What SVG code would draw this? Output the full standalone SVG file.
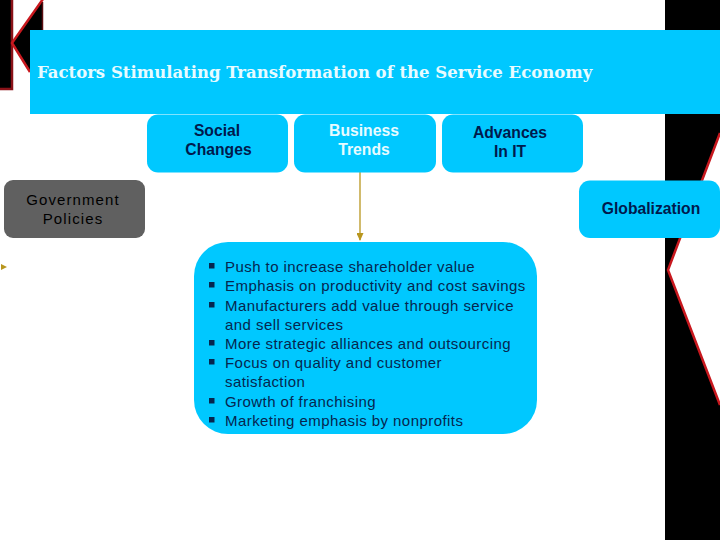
<svg xmlns="http://www.w3.org/2000/svg" width="720" height="540" viewBox="0 0 720 540">
<style>
.box{fill:#00c8ff}
.lab{font-family:"Liberation Sans",Arial,sans-serif;font-size:15.7px;font-weight:bold;fill:#001a4d;text-anchor:middle}
.gov{font-family:"Liberation Sans",Arial,sans-serif;font-size:15px;fill:#000;text-anchor:middle;letter-spacing:1.1px}
.li{font-family:"Liberation Sans",Arial,sans-serif;font-size:15px;fill:#06264f;letter-spacing:.44px}
</style>
<defs><marker id="a" markerWidth="8" markerHeight="7" refX="7" refY="3.5" orient="auto" markerUnits="userSpaceOnUse"><path d="M0 0L8 3.500L0 7z" fill="#b8961e"/></marker></defs>
<rect x="665" y="0" width="55" height="540" fill="#000"/>
<path d="M720 133L668 270L720 405z" fill="#fff"/>
<path d="M720 133L668 270L720 405" fill="none" stroke="#c8181e" stroke-width="2.500"/>
<g id="logo">
<rect x="-2" y="-2" width="14" height="91" fill="#000" stroke="#8a1218" stroke-width="2.500"/>
<path d="M42 0L12 43L30 72L42 72z" fill="#000"/>
<path d="M43 -1L12 43L30 72" fill="none" stroke="#c8181e" stroke-width="2.500"/>
<path d="M42.500 2V32" fill="none" stroke="#5a0c10" stroke-width="1.500"/>
</g>
<g id="title"><rect x="30" y="30" width="690" height="84" class="box"/>
<text x="37" y="78" font-family="'DejaVu Serif','Liberation Serif',serif" font-weight="bold" font-size="16.5px" fill="#e8fbff">Factors Stimulating Transformation of the Service Economy</text></g>
<g id="connectors"><path d="M360 172V240" stroke="#b8961e" stroke-width="1.300" fill="none" marker-end="url(#a)"/>
<path d="M1 264L7 267L1 270z" fill="#b8961e"/></g>
<g id="social"><rect x="147" y="114.500" width="141" height="58" rx="11" class="box"/><text class="lab" x="217" y="135.500">Social</text><text class="lab" x="218.500" y="155">Changes</text></g>
<g id="business"><rect x="294" y="114.500" width="142" height="58" rx="11" class="box"/><text class="lab" x="364" y="135.500" style="fill:#e8fbff">Business</text><text class="lab" x="364" y="155" style="fill:#e8fbff">Trends</text></g>
<g id="it"><rect x="442" y="114.500" width="141" height="58" rx="11" class="box"/><text class="lab" x="510" y="137.500">Advances</text><text class="lab" x="510" y="156.500">In IT</text></g>
<g id="government"><rect x="4" y="180" width="141" height="58" rx="9" fill="#606060"/><text class="gov" x="73" y="204.500">Government</text><text class="gov" x="73" y="223.500">Policies</text></g>
<g id="globalization"><rect x="579" y="180.500" width="141" height="57.500" rx="11" class="box"/><text class="lab" x="651" y="213.500">Globalization</text></g>
<g id="trends-list"><rect x="194" y="242" width="343" height="192" rx="34" class="box"/>
<g fill="#06264f"><rect x="209" y="263" width="5.500" height="5.500"/><rect x="209" y="282" width="5.500" height="5.500"/><rect x="209" y="302" width="5.500" height="5.500"/><rect x="209" y="340" width="5.500" height="5.500"/><rect x="209" y="359" width="5.500" height="5.500"/><rect x="209" y="398" width="5.500" height="5.500"/><rect x="209" y="417" width="5.500" height="5.500"/></g>
<text class="li" x="225" y="272">Push to increase shareholder value</text>
<text class="li" x="225" y="291">Emphasis on productivity and cost savings</text>
<text class="li" x="225" y="311">Manufacturers add value through service</text>
<text class="li" x="225" y="330">and sell services</text>
<text class="li" x="225" y="349">More strategic alliances and outsourcing</text>
<text class="li" x="225" y="368">Focus on quality and customer</text>
<text class="li" x="225" y="387">satisfaction</text>
<text class="li" x="225" y="407">Growth of franchising</text>
<text class="li" x="225" y="426">Marketing emphasis by nonprofits</text></g>
</svg>
